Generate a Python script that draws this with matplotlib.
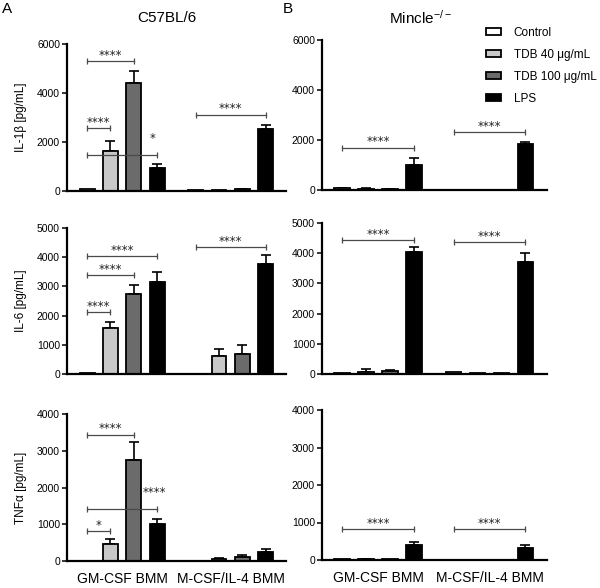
import numpy as np
import matplotlib
matplotlib.use("Agg")
import matplotlib.pyplot as plt
from matplotlib.patches import Patch

plt.rcParams['font.family'] = ['Liberation Sans', 'DejaVu Sans']
plt.rcParams['mathtext.fontset'] = 'custom'
plt.rcParams['mathtext.rm'] = 'Liberation Sans'
plt.rcParams['mathtext.it'] = 'Liberation Sans'

groups = ['GM-CSF BMM', 'M-CSF/IL-4 BMM']
treatments = ['Control', 'TDB 40 μg/mL', 'TDB 100 μg/mL', 'LPS']
colors = ['white', '#c8c8c8', '#6b6b6b', 'black']

# means / upper errors, order: GM (Ctrl, TDB40, TDB100, LPS), M (Ctrl, TDB40, TDB100, LPS)
a_il1b_mean = [60, 1630, 4420, 920, 10, 20, 60, 2510]
a_il1b_err = [0, 420, 460, 180, 0, 0, 10, 180]
a_il6_mean = [20, 1580, 2740, 3140, 0, 605, 680, 3770]
a_il6_err = [0, 210, 310, 340, 0, 250, 300, 305]
a_tnf_mean = [10, 465, 2740, 1020, 5, 45, 120, 245]
a_tnf_err = [0, 125, 500, 115, 0, 25, 50, 75]
b_il1b_mean = [70, 60, 50, 1000, 0, 0, 0, 1840]
b_il1b_err = [20, 10, 10, 280, 0, 0, 0, 90]
b_il6_mean = [20, 80, 90, 4050, 50, 20, 40, 3705]
b_il6_err = [0, 70, 30, 140, 0, 0, 0, 300]
b_tnf_mean = [20, 30, 15, 410, 10, 0, 10, 310]
b_tnf_err = [0, 10, 0, 80, 0, 0, 0, 80]

# significance brackets: (from bar, to bar, height, label, label bar pos or None, label height or None)
a_il1b_sig = [(0, 2, 5320, '****', None, None), (0, 1, 2570, '****', None, None),
              (0, 3, 1480, '*', 2.8, 1920), (4, 7, 3115, '****', None, None)]
a_il6_sig = [(0, 1, 2135, '****', None, None), (0, 2, 3380, '****', None, None),
             (0, 3, 4050, '****', None, None), (4, 7, 4350, '****', None, None)]
a_tnf_sig = [(0, 2, 3440, '****', None, None), (0, 1, 810, '*', None, None),
             (0, 3, 1420, '****', 2.9, 1700)]
b_il1b_sig = [(0, 3, 1700, '****', None, None), (4, 7, 2330, '****', None, None)]
b_il6_sig = [(0, 3, 4425, '****', None, None), (4, 7, 4360, '****', None, None)]
b_tnf_sig = [(0, 3, 820, '****', None, None), (4, 7, 820, '****', None, None)]

ylabels = ['IL-1β [pg/mL]', 'IL-6 [pg/mL]', 'TNFα [pg/mL]']
a_ymax = [6000, 5000, 4000]
b_ymax = [6000, 5000, 4000]

x = np.concatenate([np.arange(4), 4.65 + np.arange(4)])
width = 0.64

fig = plt.figure(figsize=(6.0, 5.88), dpi=100)
W, H = 600.0, 588.0

def axrect(l, r, t, b):
    return [l / W, 1 - b / H, (r - l) / W, (b - t) / H]

a_rects = [axrect(67, 286, 44, 190.7), axrect(67, 286, 228, 374), axrect(67, 286, 414, 561)]
b_rects = [axrect(322, 547, 40, 190), axrect(322, 547, 223, 374), axrect(322, 547, 410, 560)]

a_data = [(a_il1b_mean, a_il1b_err, a_il1b_sig), (a_il6_mean, a_il6_err, a_il6_sig),
          (a_tnf_mean, a_tnf_err, a_tnf_sig)]
b_data = [(b_il1b_mean, b_il1b_err, b_il1b_sig), (b_il6_mean, b_il6_err, b_il6_sig),
          (b_tnf_mean, b_tnf_err, b_tnf_sig)]

def draw(ax, mean, err, sig, ymax, xlim, ylabel, show_x):
    bar_colors = colors * 2
    ax.bar(x, mean, width=width, color=bar_colors, edgecolor='black', linewidth=1.3, zorder=2)
    err = np.array(err)
    yerr = np.vstack([np.zeros_like(err), err])
    mask = err > 0
    ax.errorbar(x[mask], np.array(mean)[mask], yerr=yerr[:, mask], fmt='none', ecolor='black',
                elinewidth=1.2, capsize=3.3, capthick=1.2, zorder=1)
    for (i0, i1, yy, lab, lx, ly) in sig:
        ax.plot([x[i0], x[i1]], [yy, yy], color='#4a4a4a', lw=0.9, marker='|',
                markersize=4, markeredgewidth=0.9, zorder=3)
        tx = (x[i0] + x[i1]) / 2 if lx is None else lx
        ty = yy if ly is None else ly
        ax.annotate(lab, (tx, ty), xytext=(0, 1.5), textcoords='offset points',
                    ha='center', va='baseline', fontsize=8.5, family='DejaVu Sans', color='#222222')
    ax.set_ylim(0, ymax)
    ax.set_xlim(*xlim)
    ax.set_yticks(np.arange(0, ymax + 1, 1000 if ymax <= 5000 else 2000))
    ax.tick_params(axis='y', direction='out', length=3.5, width=1.1, labelsize=7.5, pad=1.5)
    for s in ['top', 'right']:
        ax.spines[s].set_visible(False)
    for s in ['left', 'bottom']:
        ax.spines[s].set_linewidth(1.6)
    if show_x:
        ax.set_xticks([x[:4].mean(), x[4:].mean()])
        ax.set_xticklabels(groups, fontsize=10)
        ax.tick_params(axis='x', length=0, pad=8)
    else:
        ax.set_xticks([])
    if ylabel:
        ax.set_ylabel(ylabel, fontsize=8.5, labelpad=7)

for k in range(3):
    axA = fig.add_axes(a_rects[k])
    m, e, s = a_data[k]
    draw(axA, m, e, s, a_ymax[k], (-0.86, 8.52), ylabels[k], k == 2)
    axB = fig.add_axes(b_rects[k])
    m, e, s = b_data[k]
    draw(axB, m, e, s, b_ymax[k], (-0.84, 8.55), None, k == 2)
    if k == 0:
        handles = [Patch(facecolor=c, edgecolor='black', linewidth=1.3) for c in colors]
        fig.legend(handles, treatments, loc='upper left', bbox_to_anchor=(486 / W, 1 - 27 / H),
                   frameon=False, fontsize=8.5, handlelength=1.25, handleheight=0.55,
                   handletextpad=1.1, labelspacing=0.85, borderpad=0, borderaxespad=0)

fig.text(167 / W, 1 - 18 / H, 'C57BL/6', ha='center', va='center', fontsize=11)
fig.text(420 / W, 1 - 18 / H, 'Mincle$^{-/-}$', ha='center', va='center', fontsize=11)
fig.text(7 / W, 1 - 9 / H, 'A', ha='center', va='center', fontsize=11)
fig.text(288 / W, 1 - 9 / H, 'B', ha='center', va='center', fontsize=11)

fig.savefig('out.png', dpi=100)
